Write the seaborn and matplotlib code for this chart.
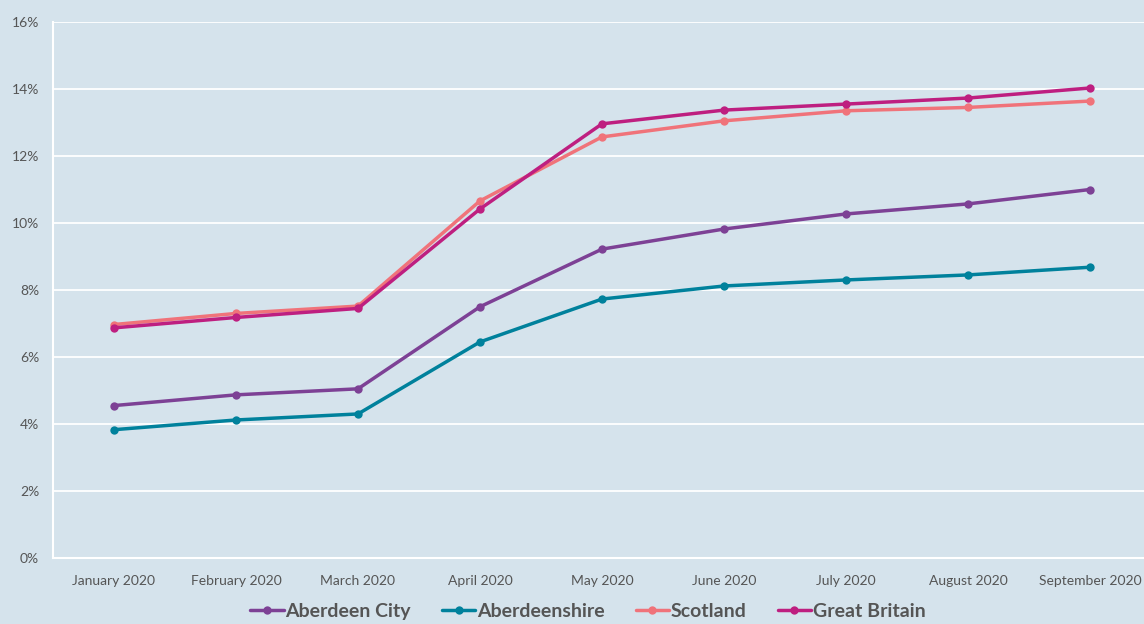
import pandas as pd
import matplotlib.pyplot as plt
import seaborn as sns
from matplotlib.ticker import PercentFormatter

# Claimant rate by month, Jan-Sep 2020 (% of working age population)
months = ['January 2020', 'February 2020', 'March 2020', 'April 2020', 'May 2020',
          'June 2020', 'July 2020', 'August 2020', 'September 2020']
aberdeen_city = [4.55, 4.87, 5.05, 7.5, 9.22, 9.82, 10.27, 10.57, 11.0]
aberdeenshire = [3.83, 4.12, 4.3, 6.45, 7.73, 8.12, 8.3, 8.45, 8.68]
scotland = [6.97, 7.3, 7.52, 10.66, 12.57, 13.05, 13.35, 13.45, 13.64]
great_britain = [6.87, 7.18, 7.45, 10.42, 12.96, 13.37, 13.55, 13.73, 14.03]

series = {
    'Aberdeen City': aberdeen_city,
    'Aberdeenshire': aberdeenshire,
    'Scotland': scotland,
    'Great Britain': great_britain,
}
colors = {
    'Aberdeen City': '#7d4195',
    'Aberdeenshire': '#00819c',
    'Scotland': '#f0737a',
    'Great Britain': '#be1f80',
}

rows = []
for name, vals in series.items():
    for m, v in zip(months, vals):
        rows.append({'Month': m, 'Area': name, 'Rate': v})
df = pd.DataFrame(rows)

bg = '#d5e3ec'
sns.set_theme(style='whitegrid', rc={
    'axes.facecolor': bg, 'figure.facecolor': bg,
    'grid.color': 'white', 'grid.linewidth': 1.3,
})
plt.rcParams['font.family'] = ['Lato', 'DejaVu Sans']

fig = plt.figure(figsize=(11.44, 6.24), dpi=100)
ax = fig.add_axes([53 / 1144, 66 / 624, 1098 / 1144, 536 / 624])

sns.lineplot(data=df, x='Month', y='Rate', hue='Area', palette=colors,
             marker='o', markersize=6, markeredgewidth=0, linewidth=2.5,
             sort=False, ax=ax)

ax.set_xlim(-0.5, len(months) - 0.5)
ax.set_ylim(0, 16)
ax.set_yticks(range(0, 17, 2))
ax.yaxis.set_major_formatter(PercentFormatter(decimals=0))
ax.xaxis.grid(False)
ax.set_xlabel('')
ax.set_ylabel('')
for side in ['top', 'right']:
    ax.spines[side].set_visible(False)
for side in ['left', 'bottom']:
    ax.spines[side].set_visible(True)
    ax.spines[side].set_color('white')
    ax.spines[side].set_linewidth(1.5)
ax.tick_params(axis='both', colors='#555555', labelsize=10, length=0)
ax.tick_params(axis='x', pad=12)
ax.tick_params(axis='y', pad=10)

handles, labels = ax.get_legend_handles_labels()
ax.legend(handles, labels, loc='lower center', bbox_to_anchor=(588 / 1144, -0.022),
          bbox_transform=fig.transFigure, ncol=4, frameon=False,
          prop={'size': 14, 'weight': 'bold'}, labelcolor='#555555',
          handlelength=1.7, handletextpad=0.1, columnspacing=1.6)

fig.savefig('out.png', dpi=100, facecolor=bg)
